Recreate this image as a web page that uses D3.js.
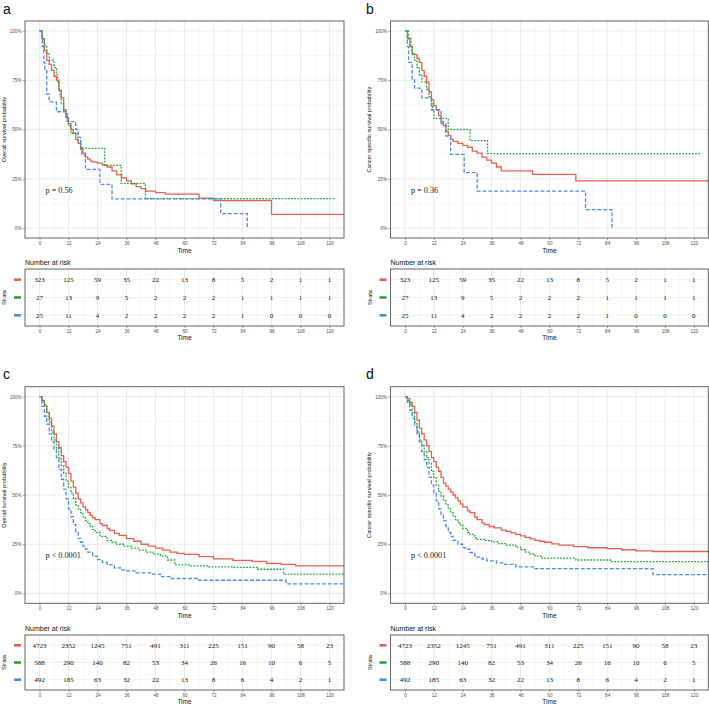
<!DOCTYPE html>
<html>
<head>
<meta charset="utf-8">
<script src="https://cdn.jsdelivr.net/npm/d3@7"></script>
<style>
body{margin:0;background:#fff;}
svg{display:block;}
</style>
</head>
<body>
<script>
// ---- data ----
var timeTicks = [0, 12, 24, 36, 48, 60, 72, 84, 96, 108, 120];
var survTicks = [0, 0.25, 0.5, 0.75, 1];
var survLabels = ['0%', '25%', '50%', '75%', '100%'];
var panelLetters = ['a', 'b', 'c', 'd'];
var yTitles = ['Overall survival probability', 'Cancer specific survival probability',
               'Overall survival probability', 'Cancer specific survival probability'];
var pValues = ['p = 0.56', 'p = 0.36', 'p < 0.0001', 'p < 0.0001'];

var riskSmall = [
  [323, 125, 59, 35, 22, 13, 8, 5, 2, 1, 1],
  [27, 13, 9, 5, 2, 2, 2, 1, 1, 1, 1],
  [25, 11, 4, 2, 2, 2, 2, 1, 0, 0, 0]
];
var riskLarge = [
  [4723, 2352, 1245, 751, 491, 311, 225, 151, 90, 58, 23],
  [588, 290, 140, 82, 53, 34, 26, 16, 10, 6, 5],
  [492, 185, 63, 32, 22, 13, 8, 6, 4, 2, 1]
];

// [time, survival]
var aRed = [[0,1],[1,0.96],[2,0.90],[3,0.85],[4,0.83],[5,0.80],[6,0.77],[7,0.75],[8,0.70],[9,0.66],[10,0.60],[11,0.56],[12,0.53],[13,0.50],[14,0.48],[15,0.45],[16,0.43],[17,0.40],[18,0.38],[19,0.36],[20,0.35],[21,0.34],[22,0.335],[24,0.33],[26,0.32],[28,0.31],[30,0.29],[32,0.27],[34,0.255],[36,0.24],[38,0.225],[40,0.21],[42,0.2],[44,0.188],[48,0.18],[52,0.172],[66,0.152],[72,0.14],[96,0.07],[126,0.07]];
var aGreen = [[0,1],[1,0.963],[2,0.926],[3,0.889],[4,0.852],[6,0.815],[7,0.778],[7.5,0.741],[8,0.704],[8.5,0.667],[9,0.63],[10,0.593],[11,0.556],[12,0.519],[13,0.481],[16,0.444],[17,0.404],[27,0.318],[33.8,0.227],[43.8,0.15],[122,0.15]];
var aBlue = [[0,1],[1.2,0.92],[1.8,0.84],[2.2,0.80],[3,0.68],[4,0.64],[7,0.59],[11.5,0.54],[15,0.50],[16,0.46],[17,0.41],[17.5,0.37],[19,0.298],[25,0.222],[30,0.148],[75,0.074],[86,0]];

var bRed = [[0,1],[1,0.96],[2,0.92],[3,0.88],[5,0.86],[6,0.84],[7,0.80],[8,0.77],[9,0.74],[10,0.69],[11,0.65],[12,0.62],[13,0.60],[14,0.57],[15,0.54],[16,0.52],[17,0.49],[18,0.47],[19,0.45],[20,0.44],[22,0.43],[24,0.42],[26,0.41],[28,0.39],[30,0.38],[32,0.36],[34,0.345],[36,0.33],[38,0.31],[40,0.29],[53,0.273],[71,0.24],[126,0.24]];
var bGreen = [[0,1],[1.5,0.963],[2.5,0.926],[3,0.889],[4,0.852],[5,0.815],[6,0.778],[7,0.741],[9,0.704],[10,0.667],[11,0.63],[11.5,0.593],[12,0.556],[18,0.5],[27,0.444],[34.3,0.378],[123,0.378]];
var bBlue = [[0,1],[1,0.92],[1.5,0.84],[3,0.755],[4,0.71],[7,0.66],[11,0.60],[15,0.53],[17,0.466],[19,0.374],[24.6,0.281],[30,0.188],[75,0.094],[86,0]];

var cRed = [[0,1],[1,0.98],[2,0.95],[3,0.92],[4,0.89],[5,0.85],[6,0.81],[7,0.77],[8,0.74],[9,0.70],[10,0.67],[11,0.64],[12,0.61],[13,0.57],[14,0.54],[15,0.51],[16,0.48],[17,0.46],[18,0.44],[19,0.425],[20,0.41],[21,0.397],[22,0.385],[23,0.375],[25,0.355],[26,0.345],[28,0.33],[29,0.32],[31,0.305],[33,0.295],[36,0.278],[39,0.265],[42,0.25],[45,0.24],[48,0.23],[51,0.22],[54,0.21],[57,0.204],[60,0.198],[66,0.187],[72,0.176],[80,0.168],[88,0.163],[94,0.153],[100,0.148],[106,0.14],[126,0.14]];
var cGreen = [[0,1],[1,0.98],[2,0.96],[3,0.92],[4,0.87],[5,0.82],[6,0.78],[7,0.74],[8,0.69],[9,0.65],[10,0.61],[11,0.57],[12,0.54],[13,0.51],[14,0.48],[15,0.45],[16,0.43],[17,0.41],[18,0.39],[19,0.37],[20,0.355],[21,0.34],[22,0.325],[23,0.31],[25,0.29],[28,0.27],[30,0.26],[32,0.25],[35,0.24],[38,0.23],[41,0.22],[44,0.21],[47,0.2],[50,0.19],[53,0.17],[56,0.145],[62,0.14],[70,0.135],[80,0.132],[90,0.123],[101,0.098],[126,0.098]];
var cBlue = [[0,1],[1,0.95],[2,0.9],[3,0.86],[4,0.81],[5,0.77],[6,0.73],[7,0.69],[8,0.63],[9,0.58],[10,0.53],[11,0.48],[12,0.43],[13,0.39],[14,0.35],[15,0.31],[16,0.28],[17,0.26],[18,0.24],[19,0.225],[20,0.21],[22,0.19],[24,0.172],[26,0.158],[28,0.145],[31,0.13],[34,0.12],[36,0.115],[40,0.105],[46,0.098],[50,0.085],[54,0.076],[66,0.067],[102,0.049],[126,0.049]];

var dRed = [[0,1],[1,0.99],[2,0.97],[3,0.95],[4,0.92],[5,0.88],[6,0.84],[7,0.81],[8,0.78],[9,0.75],[10,0.72],[11,0.69],[12,0.67],[13,0.64],[14,0.62],[15,0.59],[16,0.56],[17,0.545],[18,0.53],[19,0.515],[20,0.50],[21,0.485],[22,0.47],[23,0.455],[24,0.44],[26,0.42],[27,0.41],[29,0.387],[30,0.375],[32,0.358],[33,0.35],[35,0.34],[37,0.333],[40,0.322],[42,0.315],[44,0.308],[46,0.30],[48,0.292],[50,0.285],[52,0.277],[54,0.27],[56,0.265],[58,0.26],[61,0.252],[64,0.245],[70,0.238],[76,0.232],[84,0.228],[90,0.222],[96,0.216],[103,0.213],[126,0.213]];
var dGreen = [[0,1],[1,0.98],[2,0.96],[3,0.92],[4,0.87],[5,0.82],[6,0.78],[7,0.75],[8,0.72],[9,0.69],[10,0.66],[11,0.62],[12,0.59],[13,0.55],[14,0.52],[15,0.495],[16,0.47],[17,0.45],[18,0.43],[19,0.41],[20,0.39],[21,0.375],[22,0.36],[23,0.345],[24,0.33],[26,0.31],[27,0.30],[29,0.283],[30,0.275],[33,0.268],[36,0.262],[39,0.253],[42,0.245],[46,0.235],[48,0.222],[50,0.21],[52,0.2],[54,0.19],[57,0.179],[71,0.17],[86,0.162],[126,0.162]];
var dBlue = [[0,1],[1,0.97],[2,0.93],[3,0.89],[4,0.85],[5,0.81],[6,0.77],[7,0.72],[8,0.68],[9,0.64],[10,0.59],[11,0.55],[12,0.51],[13,0.47],[14,0.43],[15,0.40],[16,0.37],[17,0.34],[18,0.31],[19,0.29],[20,0.27],[22,0.25],[24,0.233],[25,0.225],[27,0.208],[29,0.192],[30,0.185],[32,0.175],[34,0.165],[38,0.155],[41,0.148],[46,0.135],[54,0.126],[103,0.096],[126,0.096]];

// ---- layout / style ----
var colors = ['#E8604F', '#1FA838', '#4A8BEF'];
var dashes = [null, '1.8,1.4', '3.8,2'];
var sans = '"Liberation Sans", Arial, sans-serif';
var serif = '"Liberation Serif", "Times New Roman", serif';

var boxes = [
  {L: 25, R: 344, T: 21, B: 238, TT: 269, TB: 326, lx: 3, ly: 13.5},
  {L: 390.5, R: 708.3, T: 21, B: 238, TT: 269, TB: 326, lx: 366, ly: 13.5},
  {L: 25, R: 344, T: 386.7, B: 603.3, TT: 635, TB: 690, lx: 3, ly: 378.5},
  {L: 390.5, R: 708.3, T: 386.7, B: 603.3, TT: 635, TB: 690, lx: 366, ly: 378.5}
];
var panelCurves = [[aRed, aGreen, aBlue], [bRed, bGreen, bBlue], [cRed, cGreen, cBlue], [dRed, dGreen, dBlue]];
var panelRisk = [riskSmall, riskSmall, riskLarge, riskLarge];

var svg = d3.select('body').append('svg').attr('width', 709).attr('height', 706);

function styleAxis(sel) {
  sel.select('.domain').remove();
  sel.selectAll('.tick line').attr('stroke', '#555').attr('stroke-width', 0.6);
  sel.selectAll('.tick text').attr('fill', '#4d4d4d');
  sel.attr('font-size', 4.6).attr('font-family', sans);
}

function grid(g, x, y0, y1, xsMajor, xsMinor) {
  g.selectAll(null).data(xsMinor).enter().append('line')
    .attr('x1', d => x(d)).attr('x2', d => x(d)).attr('y1', y0).attr('y2', y1)
    .attr('stroke', '#f2f2f2').attr('stroke-width', 0.6);
  g.selectAll(null).data(xsMajor).enter().append('line')
    .attr('x1', d => x(d)).attr('x2', d => x(d)).attr('y1', y0).attr('y2', y1)
    .attr('stroke', '#e6e6e6').attr('stroke-width', 0.8);
}

function drawPanel(i) {
  var box = boxes[i];
  var g = svg.append('g');
  var x = d3.scaleLinear().domain([-6, 126]).range([box.L, box.R]);
  var y = d3.scaleLinear().domain([-0.05, 1.05]).range([box.B, box.T]);
  var minorX = timeTicks.map(t => t + 6);
  var minorY = survTicks.slice(0, -1).map(s => s + 0.125);

  // panel letter
  g.append('text').attr('x', box.lx).attr('y', box.ly).text(panelLetters[i])
    .attr('font-family', sans).attr('font-size', 14).attr('fill', '#111');

  // plot grid
  grid(g, x, box.T, box.B, timeTicks, minorX);
  g.selectAll(null).data(minorY).enter().append('line')
    .attr('x1', box.L).attr('x2', box.R).attr('y1', d => y(d)).attr('y2', d => y(d))
    .attr('stroke', '#f2f2f2').attr('stroke-width', 0.6);
  g.selectAll(null).data(survTicks).enter().append('line')
    .attr('x1', box.L).attr('x2', box.R).attr('y1', d => y(d)).attr('y2', d => y(d))
    .attr('stroke', '#e6e6e6').attr('stroke-width', 0.8);

  // curves
  var line = d3.line().x(d => x(d[0])).y(d => y(d[1])).curve(d3.curveStepAfter);
  panelCurves[i].forEach(function(c, k) {
    g.append('path').datum(c).attr('d', line).attr('fill', 'none')
      .attr('stroke', colors[k]).attr('stroke-width', 1.3)
      .attr('stroke-dasharray', dashes[k]);
  });

  g.append('rect').attr('x', box.L).attr('y', box.T)
    .attr('width', box.R - box.L).attr('height', box.B - box.T)
    .attr('fill', 'none').attr('stroke', '#555').attr('stroke-width', 0.9);

  // p value
  g.append('text').attr('x', x(2.5)).attr('y', y(0.18)).text(pValues[i])
    .attr('font-family', serif).attr('font-size', 8.2).attr('fill', '#222');

  // axes
  g.append('g').attr('transform', 'translate(0,' + box.B + ')')
    .call(d3.axisBottom(x).tickValues(timeTicks).tickSize(2).tickPadding(1.5)).call(styleAxis);
  g.append('g').attr('transform', 'translate(' + box.L + ',0)')
    .call(d3.axisLeft(y).tickValues(survTicks).tickFormat((d, j) => survLabels[j]).tickSize(2).tickPadding(1.5))
    .call(styleAxis);

  g.append('text').attr('x', (box.L + box.R) / 2).attr('y', box.B + 14.5).text('Time')
    .attr('text-anchor', 'middle').attr('font-family', sans).attr('font-size', 6.5).attr('fill', '#111');
  g.append('text').attr('transform', 'translate(' + (box.L - 19.5) + ',' + ((box.T + box.B) / 2) + ') rotate(-90)')
    .text(yTitles[i]).attr('text-anchor', 'middle').attr('font-family', sans).attr('font-size', 5.6).attr('fill', '#111');

  // risk table
  var risk = panelRisk[i];
  var ry = d3.scalePoint().domain([0, 1, 2]).range([box.TT, box.TB]).padding(0.6);
  g.append('text').attr('x', box.L).attr('y', box.TT - 4.5).text('Number at risk')
    .attr('font-family', sans).attr('font-size', 7).attr('fill', '#111');
  grid(g, x, box.TT, box.TB, timeTicks, minorX);
  g.selectAll(null).data([0, 1, 2]).enter().append('line')
    .attr('x1', box.L).attr('x2', box.R).attr('y1', d => ry(d)).attr('y2', d => ry(d))
    .attr('stroke', '#ececec').attr('stroke-width', 0.8);
  risk.forEach(function(row, k) {
    g.selectAll(null).data(row).enter().append('text')
      .attr('x', (d, j) => x(timeTicks[j])).attr('y', ry(k)).attr('dy', '0.35em')
      .attr('text-anchor', 'middle').text(d => d)
      .attr('font-family', serif).attr('font-size', 7).attr('fill', '#111');
    g.append('line').attr('x1', box.L - 11).attr('x2', box.L - 4)
      .attr('y1', ry(k)).attr('y2', ry(k))
      .attr('stroke', colors[k]).attr('stroke-width', 2.6);
  });
  g.append('rect').attr('x', box.L).attr('y', box.TT)
    .attr('width', box.R - box.L).attr('height', box.TB - box.TT)
    .attr('fill', 'none').attr('stroke', '#555').attr('stroke-width', 0.9);
  g.append('g').attr('transform', 'translate(0,' + box.TB + ')')
    .call(d3.axisBottom(x).tickValues(timeTicks).tickSize(2).tickPadding(1.5)).call(styleAxis);
  g.append('text').attr('x', (box.L + box.R) / 2).attr('y', box.TB + 13.5).text('Time')
    .attr('text-anchor', 'middle').attr('font-family', sans).attr('font-size', 6.5).attr('fill', '#111');
  g.append('text').attr('transform', 'translate(' + (box.L - 19) + ',' + ((box.TT + box.TB) / 2) + ') rotate(-90)')
    .text('Strata').attr('text-anchor', 'middle').attr('font-family', sans).attr('font-size', 5.6).attr('fill', '#111');
}

[0, 1, 2, 3].forEach(drawPanel);
</script>
</body>
</html>
